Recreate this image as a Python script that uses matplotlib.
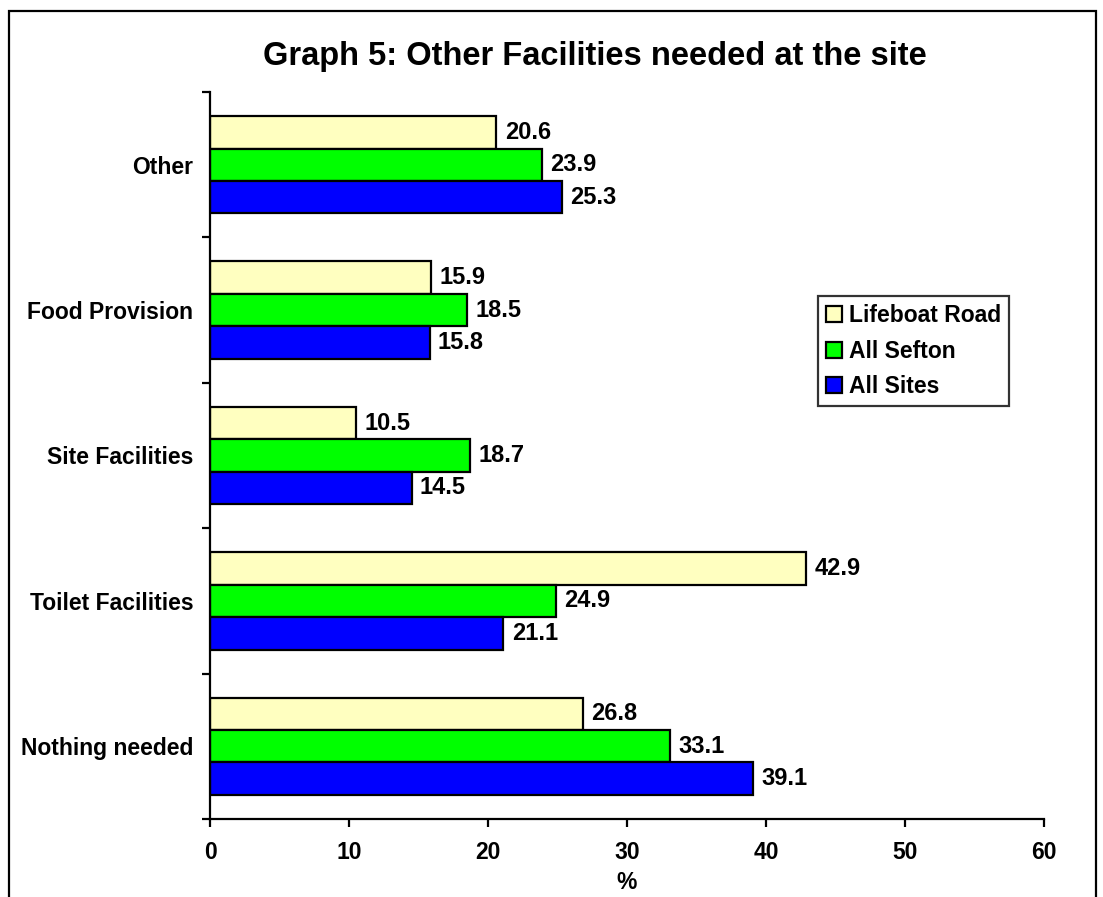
import matplotlib.pyplot as plt
from matplotlib.patches import Rectangle
import numpy as np

plt.rcParams['font.family'] = ['Liberation Sans', 'DejaVu Sans']
plt.rcParams['font.weight'] = 'bold'

categories = ["Other", "Food Provision", "Site Facilities", "Toilet Facilities", "Nothing needed"]
lifeboat_road = [20.6, 15.9, 10.5, 42.9, 26.8]
all_sefton = [23.9, 18.5, 18.7, 24.9, 33.1]
all_sites = [25.3, 15.8, 14.5, 21.1, 39.1]

series = [
    ("Lifeboat Road", lifeboat_road, "#FFFFC0"),
    ("All Sefton", all_sefton, "#00FF00"),
    ("All Sites", all_sites, "#0000FF"),
]

fig = plt.figure(figsize=(11.03, 8.97), dpi=100)
ax = fig.add_axes([0.1904, 0.0870, 0.7561, 0.8104])

# categories run top to bottom
pos = np.arange(len(categories))[::-1]
h = 0.223
offsets = [h, 0, -h]

for (name, vals, col), off in zip(series, offsets):
    bars = ax.barh(pos + off, vals, height=h, color=col, edgecolor="black",
                   linewidth=1.6, label=name)
    for b, v in zip(bars, vals):
        ax.text(b.get_width() + 0.6, b.get_y() + b.get_height() / 2, f"{v:.1f}",
                ha="left", va="center", fontsize=17, fontweight="bold")

ax.set_xlim(0, 60)
ax.set_ylim(-0.5, len(categories) - 0.5)
ax.set_xticks(np.arange(0, 61, 10))
ax.tick_params(axis="x", direction="out", length=6, width=1.6, labelsize=16.5, pad=10)

# ticks between groups, labels at group centres
ax.set_yticks(np.arange(-0.5, len(categories), 1.0))
ax.set_yticklabels([])
ax.tick_params(axis="y", which="major", direction="out", length=6, width=1.6)
ax.set_yticks(pos, minor=True)
ax.set_yticklabels(categories, minor=True)
ax.tick_params(axis="y", which="minor", length=0, labelsize=16.5, pad=12)

for s in ["top", "right"]:
    ax.spines[s].set_visible(False)
for s in ["left", "bottom"]:
    ax.spines[s].set_linewidth(1.6)

ax.set_xlabel("%", fontsize=16.5, fontweight="bold", labelpad=5)

leg = ax.legend(loc="upper left", bbox_to_anchor=(0.7295, 0.7195), fontsize=16.5,
                frameon=True, fancybox=False, edgecolor="black", handlelength=0.7,
                handleheight=0.7, handletextpad=0.3, borderpad=0.35, labelspacing=0.55,
                borderaxespad=0)
leg.get_frame().set_linewidth(1.6)

fig.text(0.539, 0.937, "Graph 5: Other Facilities needed at the site",
         ha="center", va="center", fontsize=23.5, fontweight="bold")

# outer frame around the whole chart
fig.patches.append(Rectangle((9 / 1103, -0.02), 1087 / 1103, 1.02 - 11 / 897,
                             transform=fig.transFigure, fill=False,
                             edgecolor="black", linewidth=1.6))

plt.savefig("out.png", dpi=100)
plt.close()
